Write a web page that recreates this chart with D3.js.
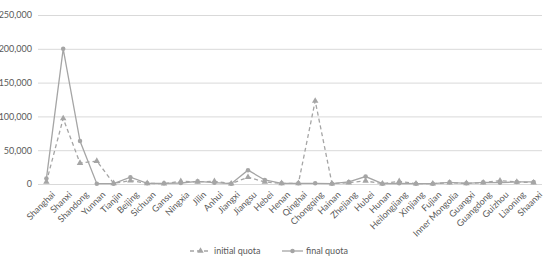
<!DOCTYPE html>
<html>
<head>
<meta charset="utf-8">
<script src="https://cdn.jsdelivr.net/npm/d3@7"></script>
<style>
	body { margin: 0; background: #fff; }
	svg text { font-family: Lato, "Open Sans", sans-serif; fill: #595959; }
</style>
</head>
<body>
<svg id="chart" width="550" height="262"></svg>
<script>
var provinces = ["Shanghai", "Shanxi", "Shandong", "Yunnan", "Tianjin", "Beijing", "Sichuan", "Gansu",
	"Ningxia", "Jilin", "Anhui", "Jiangxi", "Jiangsu", "Hebei", "Henan", "Qinghai", "Chongqing", "Hainan",
	"Zhejiang", "Hubei", "Hunan", "Heilongjiang", "Xinjiang", "Fujian", "Inner Mongolia", "Guangxi",
	"Guangdong", "Guizhou", "Liaoning", "Shaanxi"];

var initialQuota = [3000, 97000, 31000, 34000, 1000, 5000, 1000, 500,
	4000, 3000, 4000, 500, 10000, 3000, 1000, 1000, 123000, 500,
	2000, 4500, 500, 4000, 500, 500, 2000, 1000,
	2000, 5000, 3000, 2000];

var finalQuota = [8000, 200000, 63500, 500, 500, 10000, 1000, 1000,
	1500, 4000, 2000, 500, 20500, 6000, 1000, 1000, 1000, 500,
	3000, 11000, 500, 1000, 500, 500, 2500, 1000,
	2500, 2000, 3000, 3000];

var yTicks = [0, 50000, 100000, 150000, 200000, 250000];

var svg = d3.select("#chart"),
	margin = {top: 15, left: 38, right: 8},
	width = +svg.attr("width"),
	plotBottom = 184;

var x = d3.scaleBand()
	.domain(provinces)
	.range([margin.left, width - margin.right]);

var y = d3.scaleLinear()
	.domain([0, 250000])
	.range([plotBottom, margin.top]);

var grey = "#a5a5a5";

// gridlines
svg.append("g")
	.selectAll("line")
	.data(yTicks)
	.enter().append("line")
	.attr("x1", margin.left)
	.attr("x2", width - margin.right)
	.attr("y1", d => y(d) + 0.5)
	.attr("y2", d => y(d) + 0.5)
	.attr("stroke", "#d9d9d9")
	.attr("stroke-width", 1);

var yAxis = svg.append("g")
	.attr("transform", "translate(" + margin.left + ",0)")
	.call(d3.axisLeft(y).tickValues(yTicks).tickSize(0).tickPadding(6).tickFormat(d3.format(",")));
yAxis.select(".domain").remove();
yAxis.selectAll("text").style("font-size", "9px");

var xAxis = svg.append("g")
	.attr("transform", "translate(0," + plotBottom + ")")
	.call(d3.axisBottom(x).tickSize(0).tickPadding(0));
xAxis.select(".domain").remove();
xAxis.selectAll("text")
	.style("font-size", "9px")
	.attr("text-anchor", "end")
	.attr("y", 0)
	.attr("dy", "0.35em")
	.attr("transform", "translate(7,9) rotate(-45)");

var cx = d => x(d) + x.bandwidth() / 2;

var series = [
	{name: "initial quota", values: initialQuota, dash: "4,3", marker: "triangle"},
	{name: "final quota", values: finalQuota, dash: null, marker: "circle"}
];

var line = d3.line()
	.x(d => cx(d.p))
	.y(d => y(d.v));

var tri = d3.symbol().type(d3.symbolTriangle).size(18);
var circ = d3.symbol().type(d3.symbolCircle).size(16);

series.forEach(function(s) {
	var pts = provinces.map((p, i) => ({p: p, v: s.values[i]}));
	svg.append("path")
		.datum(pts)
		.attr("fill", "none")
		.attr("stroke", grey)
		.attr("stroke-width", 1.3)
		.attr("stroke-dasharray", s.dash)
		.attr("d", line);
	svg.append("g")
		.selectAll("path")
		.data(pts)
		.enter().append("path")
		.attr("d", s.marker == "triangle" ? tri : circ)
		.attr("transform", d => "translate(" + cx(d.p) + "," + y(d.v) + ")")
		.attr("fill", grey);
});

// legend
var legend = svg.append("g")
	.selectAll("g")
	.data(series)
	.enter().append("g")
	.attr("transform", (d, i) => "translate(" + (190 + i * 92) + ",251)");

legend.append("line")
	.attr("x1", 0).attr("x2", 21)
	.attr("stroke", grey)
	.attr("stroke-width", 1.3)
	.attr("stroke-dasharray", d => d.dash);

legend.append("path")
	.attr("d", d => d.marker == "triangle" ? tri() : circ())
	.attr("transform", "translate(10.5,0)")
	.attr("fill", grey);

legend.append("text")
	.attr("x", 24)
	.attr("dy", "0.35em")
	.style("font-size", "9px")
	.text(d => d.name);
</script>
</body>
</html>
